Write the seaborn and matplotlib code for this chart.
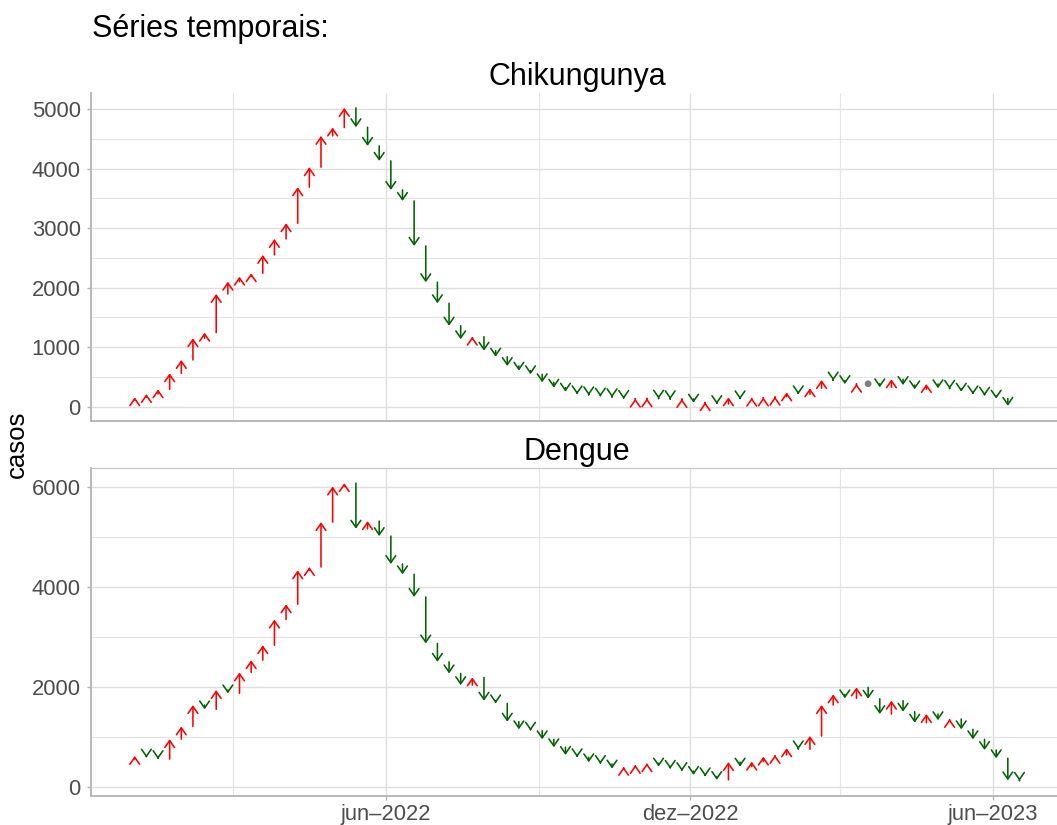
import numpy as np
import pandas as pd
import matplotlib
matplotlib.use("Agg")
import matplotlib.pyplot as plt
import matplotlib.dates as mdates
from matplotlib.ticker import MultipleLocator, FixedLocator, FixedFormatter, NullFormatter
import seaborn as sns

# ---------------- data (weekly cases; first value = week before first arrow) ----------------
first_week = "2021-12-25"
chikungunya = [110,
               158, 213, 292, 561, 785, 1150, 1244, 1894, 2101, 2185, 2242, 2550, 2818, 3082, 3687,
               4024, 4550, 4690, 5020, 4695, 4382, 4130, 3642, 3457, 2701, 2091, 1738, 1361, 1133,
               1176, 941, 840, 684, 605, 545, 410, 319, 252, 208, 192, 170, 158, 130, 135, 140,
               135, 125, 130, 67, 75, 45, 157, 124, 151, 155, 168, 241, 208, 309, 448, 440, 380,
               385, 385, 325, 460, 364, 292, 381, 310, 300, 252, 208, 185, 135, 15]
dengue = [550,
          614, 580, 550, 950, 1205, 1634, 1547, 1934, 1867, 2287, 2533, 2833, 3347, 3653, 4333,
          4400, 5300, 6013, 6080, 5167, 5320, 5020, 4460, 4253, 3800, 2867, 2500, 2267, 2033,
          2187, 1720, 1667, 1300, 1147, 1120, 947, 787, 633, 587, 487, 453, 360, 395, 433, 467,
          400, 355, 310, 233, 205, 133, 490, 400, 500, 600, 633, 767, 747, 1013, 1633, 1847,
          1767, 1987, 1760, 1453, 1720, 1500, 1280, 1453, 1330, 1355, 1147, 947, 733, 567,
          125, 115]
diseases = ["Chikungunya", "Dengue"]
x_tick_dates = ["2022-06-01", "2022-12-01", "2023-06-01"]
x_tick_labels = ["jun\u20132022", "dez\u20132022", "jun\u20132023"]
x_minor_dates = ["2022-03-01", "2022-09-01", "2023-03-01"]
y_ticks = {"Chikungunya": [0, 1000, 2000, 3000, 4000, 5000], "Dengue": [0, 2000, 4000, 6000]}
y_minor = {"Chikungunya": 500, "Dengue": 1000}

RED = "#FF0000"
GREEN = "#006400"
GREY = "#7F7F7F"

# ---------------- style ----------------
sns.set_theme(style="white")
plt.rcParams["font.family"] = ["Liberation Sans", "DejaVu Sans"]

W, H = 1057, 825
fig = plt.figure(figsize=(W / 100, H / 100), dpi=100)


def box(l, t, r, b):
    return [l / W, 1 - b / H, (r - l) / W, (b - t) / H]


series = {"Chikungunya": chikungunya, "Dengue": dengue}
frames = {}
for name in diseases:
    vals = series[name]
    d = pd.date_range(first_week, periods=len(vals), freq="7D")
    df = pd.DataFrame({"date": mdates.date2num(d.to_pydatetime()), "casos": vals})
    df["prev"] = df["casos"].shift(1)
    frames[name] = df

# shared x range: arrows' dates with 5% expansion
x_lo = min(f["date"].iloc[1] for f in frames.values())
x_hi = max(f["date"].iloc[-1] for f in frames.values())
x_pad = 0.05 * (x_hi - x_lo)

axes = {
    "Chikungunya": fig.add_axes(box(90.5, 93, 1063.7, 420.7)),
    "Dengue": fig.add_axes(box(90.5, 468.3, 1063.7, 795.7)),
}

for name in diseases:
    ax = axes[name]
    df = frames[name]
    arrows = df.iloc[1:]
    for _, r in arrows.iterrows():
        if r["casos"] == r["prev"]:
            continue
        col = RED if r["casos"] > r["prev"] else GREEN
        ax.annotate("", xy=(r["date"], r["casos"]), xytext=(r["date"], r["prev"]),
                    xycoords="data", textcoords="data", annotation_clip=False,
                    arrowprops=dict(arrowstyle="->,head_length=0.5,head_width=0.35",
                                    color=col, lw=1.15, shrinkA=0, shrinkB=0,
                                    mutation_scale=10))
    same = arrows[arrows["casos"] == arrows["prev"]]
    if len(same):
        sns.scatterplot(data=same, x="date", y="casos", color=GREY, s=24,
                        edgecolor="none", ax=ax, legend=False, zorder=3)

    lo, hi = arrows["casos"].min(), arrows["casos"].max()
    pad = 0.05 * (hi - lo)
    ax.set_ylim(lo - pad, hi + pad)
    ax.set_xlim(x_lo - x_pad, x_hi + x_pad)

    ax.yaxis.set_major_locator(FixedLocator(y_ticks[name]))
    ax.yaxis.set_minor_locator(MultipleLocator(y_minor[name]))
    ax.xaxis.set_major_locator(FixedLocator(mdates.datestr2num(x_tick_dates)))
    ax.xaxis.set_minor_locator(FixedLocator(mdates.datestr2num(x_minor_dates)))
    ax.set_yticklabels([str(t) for t in y_ticks[name]])
    if name == "Dengue":
        ax.xaxis.set_major_formatter(FixedFormatter(x_tick_labels))
    else:
        ax.xaxis.set_major_formatter(NullFormatter())
    ax.xaxis.set_minor_formatter(NullFormatter())

    ax.set_axisbelow(True)
    ax.grid(which="major", color="#DEDEDE", lw=1.0)
    ax.grid(which="minor", color="#E4E4E4", lw=0.8)
    ax.set_xlabel("")
    ax.set_ylabel("")

    ax.tick_params(axis="y", which="major", left=True, length=3, width=1.0,
                   color="#B3B3B3", labelcolor="#4D4D4D", labelsize=15.8, pad=4)
    ax.tick_params(axis="x", which="major", bottom=(name == "Dengue"), length=3, width=1.0,
                   color="#B3B3B3", labelcolor="#4D4D4D", labelsize=15.8, pad=3)
    ax.tick_params(which="minor", length=0)

    for s in ["left", "bottom"]:
        ax.spines[s].set_visible(True)
        ax.spines[s].set_color("#B3B3B3")
        ax.spines[s].set_linewidth(1.3)
    ax.spines["right"].set_visible(False)
    if name == "Dengue":
        ax.spines["top"].set_visible(True)
        ax.spines["top"].set_color("#C8C8C8")
        ax.spines["top"].set_linewidth(0.9)
    else:
        ax.spines["top"].set_visible(False)
    ax.set_facecolor("white")

# texts
fig.text(91.7 / W, 1 - 37.3 / H, "Séries temporais:", fontsize=22, ha="left", va="baseline",
         color="black")
fig.text(577 / W, 1 - 85 / H, "Chikungunya", fontsize=22, ha="center", va="baseline", color="black")
fig.text(577 / W, 1 - 460 / H, "Dengue", fontsize=22, ha="center", va="baseline", color="black")
fig.text(17 / W, 1 - 444.4 / H, "casos", fontsize=18.5, rotation=90, ha="center", va="center",
         color="black")

fig.savefig("out.png", dpi=100, facecolor="white")
